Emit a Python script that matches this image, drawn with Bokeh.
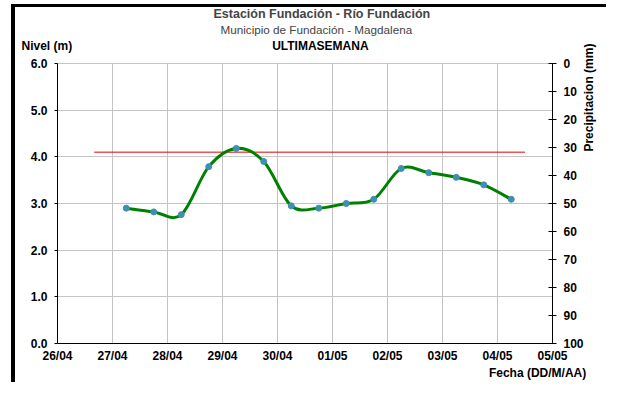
import math
import pandas as pd
from bokeh.plotting import figure
from bokeh.models import (Range1d, LinearAxis, FixedTicker, DatetimeTickFormatter,
                          NumeralTickFormatter, ColumnDataSource, Title)
from bokeh.embed import file_html
from bokeh.resources import INLINE

# ---- data ----
times = ["2013-04-27 06:00", "2013-04-27 18:00", "2013-04-28 06:00", "2013-04-28 18:00",
         "2013-04-29 06:00", "2013-04-29 18:00", "2013-04-30 06:00", "2013-04-30 18:00",
         "2013-05-01 06:00", "2013-05-01 18:00", "2013-05-02 06:00", "2013-05-02 18:00",
         "2013-05-03 06:00", "2013-05-03 18:00", "2013-05-04 06:00"]
levels = [2.90, 2.82, 2.76, 3.79, 4.18, 3.90, 2.95, 2.90, 3.00, 3.09,
          3.75, 3.66, 3.56, 3.40, 3.09]
threshold_times = ["2013-04-26 16:00", "2013-05-04 12:00"]
threshold_level = 4.10
day_ticks = ["2013-04-26", "2013-04-27", "2013-04-28", "2013-04-29", "2013-04-30",
             "2013-05-01", "2013-05-02", "2013-05-03", "2013-05-04", "2013-05-05"]
nivel_ticks = [0, 1, 2, 3, 4, 5, 6]
precip_ticks = [0, 10, 20, 30, 40, 50, 60, 70, 80, 90, 100]
title_1 = "Estación Fundación - Río Fundación"
title_2 = "Municipio de Fundación - Magdalena"
title_3 = "ULTIMASEMANA"
y_label = "Nivel (m)"
y2_label = "Precipitacion (mm)"
x_label = "Fecha (DD/M/AA)"

# ---- layout (pixels) ----
W, H = 606, 382
FL, FR, FT, FB = 57, 556, 63, 349   # frame edges

def ms(t):
    return pd.Timestamp(t).value / 1e6

xs = [ms(t) for t in times]
tick_ms = [ms(t) for t in day_ticks]

FONT = "Liberation Sans"
LBL = "12px"

p = figure(width=W, height=H, output_backend="svg", toolbar_location=None,
           x_axis_type="datetime",
           x_range=Range1d(tick_ms[0], tick_ms[-1]), y_range=Range1d(0, 6),
           min_border_left=FL, min_border_right=W - FR, min_border_top=FT,
           min_border_bottom=H - FB)
p.title = None
p.outline_line_color = "#c4c4c4"
p.background_fill_color = "white"
p.border_fill_color = None
p.styles = {
    "background": "linear-gradient(#000,#000) 11px 4px / 4px 100% no-repeat, "
                  "linear-gradient(#000,#000) 11px 4px / 100% 3px no-repeat, #fff",
}

# main axes
xa = p.xaxis[0]
xa.ticker = FixedTicker(ticks=tick_ms)
fmt = "%d/%m"
xa.formatter = DatetimeTickFormatter(days=fmt, months=fmt, hours=fmt, years=fmt,
                                     minutes=fmt, seconds=fmt, milliseconds=fmt,
                                     minsec=fmt, hourmin=fmt)
ya = p.yaxis[0]
ya.ticker = FixedTicker(ticks=nivel_ticks)
ya.formatter = NumeralTickFormatter(format="0.0")

p.xgrid.ticker = FixedTicker(ticks=tick_ms)
p.ygrid.ticker = FixedTicker(ticks=nivel_ticks)
p.grid.grid_line_color = "#c4c4c4"
p.grid.grid_line_width = 1

p.extra_y_ranges = {"precip": Range1d(100, 0), "py": Range1d(FB, FT)}
p.extra_x_ranges = {"px": Range1d(FL, FR)}
ra = LinearAxis(y_range_name="precip", ticker=FixedTicker(ticks=precip_ticks))
p.add_layout(ra, "right")

for ax in (xa, ya, ra):
    ax.axis_line_color = "black"
    ax.axis_line_width = 1
    ax.major_tick_line_color = "black"
    ax.minor_tick_line_color = None
    ax.major_label_text_font = FONT
    ax.major_label_text_font_style = "bold"
    ax.major_label_text_font_size = LBL
    ax.major_label_text_color = "black"
xa.major_tick_in = 0
xa.major_tick_out = 0
xa.major_label_standoff = 5
ya.major_tick_in = 0
ya.major_tick_out = 3
ya.major_label_standoff = 7
ra.major_tick_in = 4
ra.major_tick_out = 4
ra.major_label_standoff = 7

# text-only axes used to place the axis titles
def text_axis(ticks, texts, side, size=LBL, **kw):
    ax = LinearAxis(ticker=FixedTicker(ticks=ticks),
                    major_label_overrides=dict(zip(ticks, texts)), **kw)
    ax.axis_line_color = None
    ax.major_tick_line_color = None
    ax.minor_tick_line_color = None
    ax.major_tick_in = 0
    ax.major_tick_out = 0
    ax.major_label_text_font = FONT
    ax.major_label_text_font_style = "bold"
    ax.major_label_text_font_size = size
    ax.major_label_text_color = "black"
    p.add_layout(ax, side)
    return ax

# "Nivel (m)" and "ULTIMASEMANA" share one row above the plot
PAD = "\u00a0" * 7
text_axis([58, 322], [y_label + PAD, title_3], "above", x_range_name="px",
          major_label_standoff=11)
# vertical label: text starts at the tick and reads upward
text_axis([153], [y2_label], "right", y_range_name="py",
          major_label_orientation=math.pi / 2, major_label_standoff=3)
text_axis([541], [x_label], "below", x_range_name="px", major_label_standoff=0)

t2 = Title(text=title_2, align="left", offset=163, standoff=0,
           text_font=FONT, text_font_size="11.7px", text_font_style="normal")
t1 = Title(text=title_1, align="left", offset=156, standoff=0,
           text_font=FONT, text_font_size="12.5px", text_font_style="bold")
p.add_layout(t2, "above")
p.add_layout(t1, "above")

# threshold line
p.line([ms(t) for t in threshold_times], [threshold_level] * 2,
       line_color="#e00000", line_width=1)

# smoothed level line (Excel-style smoothing through the data points)
n = len(xs)
src = {"x0": [], "y0": [], "x1": [], "y1": [], "cx0": [], "cy0": [], "cx1": [], "cy1": []}
for i in range(n - 1):
    xm, ym = (xs[i - 1], levels[i - 1]) if i > 0 else (xs[i], levels[i])
    xp, yp = (xs[i + 2], levels[i + 2]) if i + 2 < n else (xs[i + 1], levels[i + 1])
    src["x0"].append(xs[i]); src["y0"].append(levels[i])
    src["x1"].append(xs[i + 1]); src["y1"].append(levels[i + 1])
    src["cx0"].append(xs[i] + (xs[i + 1] - xm) / 6)
    src["cy0"].append(levels[i] + (levels[i + 1] - ym) / 6)
    src["cx1"].append(xs[i + 1] - (xp - xs[i]) / 6)
    src["cy1"].append(levels[i + 1] - (yp - levels[i]) / 6)
p.bezier(x0="x0", y0="y0", x1="x1", y1="y1", cx0="cx0", cy0="cy0", cx1="cx1", cy1="cy1",
         source=ColumnDataSource(src), line_color="#008000", line_width=3)
p.scatter(xs, levels, size=6, fill_color="#3f8fae", line_color="#3f8fae")

open("out.html", "w").write(file_html(p, INLINE))
